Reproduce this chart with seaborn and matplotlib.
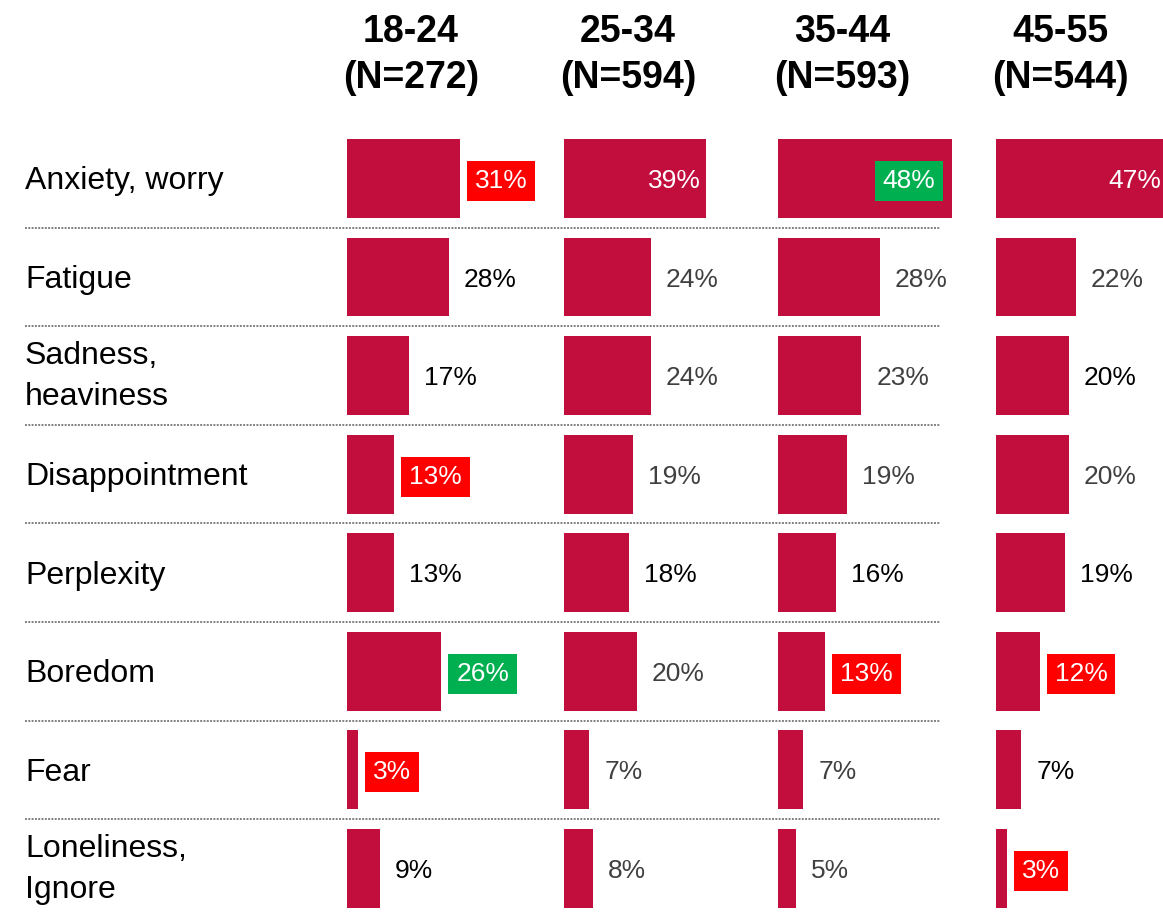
import numpy as np
import pandas as pd
import seaborn as sns
import matplotlib.pyplot as plt
from matplotlib.lines import Line2D
from matplotlib.transforms import blended_transform_factory

# Datos del gráfico
emotions = ['Anxiety, worry', 'Fatigue', 'Sadness,\nheaviness', 'Disappointment',
            'Perplexity', 'Boredom', 'Fear', 'Loneliness,\nIgnore']
age_groups = ['18-24', '25-34', '35-44', '45-55']
sample_sizes = [272, 594, 593, 544]
pct_18_24 = [31, 28, 17, 13, 13, 26, 3, 9]
pct_25_34 = [39, 24, 24, 19, 18, 20, 7, 8]
pct_35_44 = [48, 28, 23, 19, 16, 13, 7, 5]
pct_45_55 = [47, 22, 20, 20, 19, 12, 7, 3]
# celdas marcadas: 'lo' = más bajo, 'hi' = más alto
flag_18_24 = ['lo', '', '', 'lo', '', 'hi', 'lo', '']
flag_25_34 = ['', '', '', '', '', '', '', '']
flag_35_44 = ['hi', '', '', '', '', 'lo', '', '']
flag_45_55 = ['', '', '', '', '', 'lo', '', 'lo']
# tono de la etiqueta: 'd' oscuro, 'g' gris
tone_18_24 = ['d', 'd', 'd', 'd', 'd', 'd', 'd', 'd']
tone_25_34 = ['d', 'g', 'g', 'g', 'd', 'g', 'g', 'g']
tone_35_44 = ['d', 'g', 'g', 'g', 'd', 'd', 'g', 'g']
tone_45_55 = ['d', 'g', 'd', 'g', 'd', 'd', 'd', 'd']

all_pct = [pct_18_24, pct_25_34, pct_35_44, pct_45_55]
all_flag = [flag_18_24, flag_25_34, flag_35_44, flag_45_55]
all_tone = [tone_18_24, tone_25_34, tone_35_44, tone_45_55]

df = pd.DataFrame({
    'group': np.repeat(age_groups, len(emotions)),
    'emotion': emotions * len(age_groups),
    'pct': np.concatenate(all_pct),
})

BAR = '#C20E3D'
BOX = {'lo': '#FF0000', 'hi': '#00B050'}
TONE = {'d': '#000000', 'g': '#404040'}

sns.set_theme(style='white')
plt.rcParams['font.family'] = ['Liberation Sans', 'DejaVu Sans']

W, H = 1163, 913
fig = plt.figure(figsize=(W / 100, H / 100), dpi=100)
fig.patch.set_facecolor('white')

px_per_pct = 3.63
col_left = [347, 564, 778, 996]
col_width = [210, 210, 210, 167]
axes_top = 129.2
row_px = 98.57
y_bottom = -0.5 + (H - axes_top) / row_px

axes = []
for g, (grp, left, width) in enumerate(zip(age_groups, col_left, col_width)):
    ax = fig.add_axes([left / W, 0, width / W, (H - axes_top) / H])
    sub = df[df['group'] == grp]
    sns.barplot(data=sub, x='pct', y='emotion', orient='h', color=BAR,
                saturation=1, width=0.8, linewidth=0, ax=ax)
    ax.set_xlim(0, width / px_per_pct)
    ax.set_ylim(y_bottom, -0.5)
    ax.axis('off')

    for i, v in enumerate(all_pct[g]):
        flag = all_flag[g][i]
        inside = v > 35
        if inside:
            dx = -(17 if flag else 5) * 0.72
            ha = 'right'
            color = 'white'
        else:
            dx = 15 * 0.72
            ha = 'left'
            color = 'white' if flag else TONE[all_tone[g][i]]
        bbox = None
        if flag:
            bbox = dict(boxstyle='square,pad=0.3', fc=BOX[flag], ec='none')
        ax.annotate(f'{v}%', xy=(v, i), xytext=(dx, 0), textcoords='offset points',
                    ha=ha, va='center_baseline', fontsize=19, color=color, bbox=bbox,
                    annotation_clip=False)

    # cabecera
    cx = (left + 64) / W
    fig.text(cx, 1 - 42 / H, grp, ha='center', va='baseline',
             fontsize=27, fontweight='bold', color='black')
    fig.text(cx, 1 - 88 / H, f'(N={sample_sizes[g]})', ha='center', va='baseline',
             fontsize=27, fontweight='bold', color='black')
    axes.append(ax)

ax0 = axes[0]
trans = blended_transform_factory(fig.transFigure, ax0.transData)

# etiquetas de filas
for i, emo in enumerate(emotions):
    shift = 0.03 if '\n' not in emo else 0.01
    ax0.text(25 / W, i + shift, emo, transform=trans, ha='left', va='center',
             fontsize=23, color='black', linespacing=1.5)

# separadores punteados
for i in range(len(emotions) - 1):
    line = Line2D([25 / W, 940 / W], [i + 0.5, i + 0.5], transform=trans,
                  color='#808080', lw=1.4, linestyle=(0, (1, 0.7)))
    fig.add_artist(line)

plt.savefig('out.png', dpi=100, facecolor='white')
plt.close()
